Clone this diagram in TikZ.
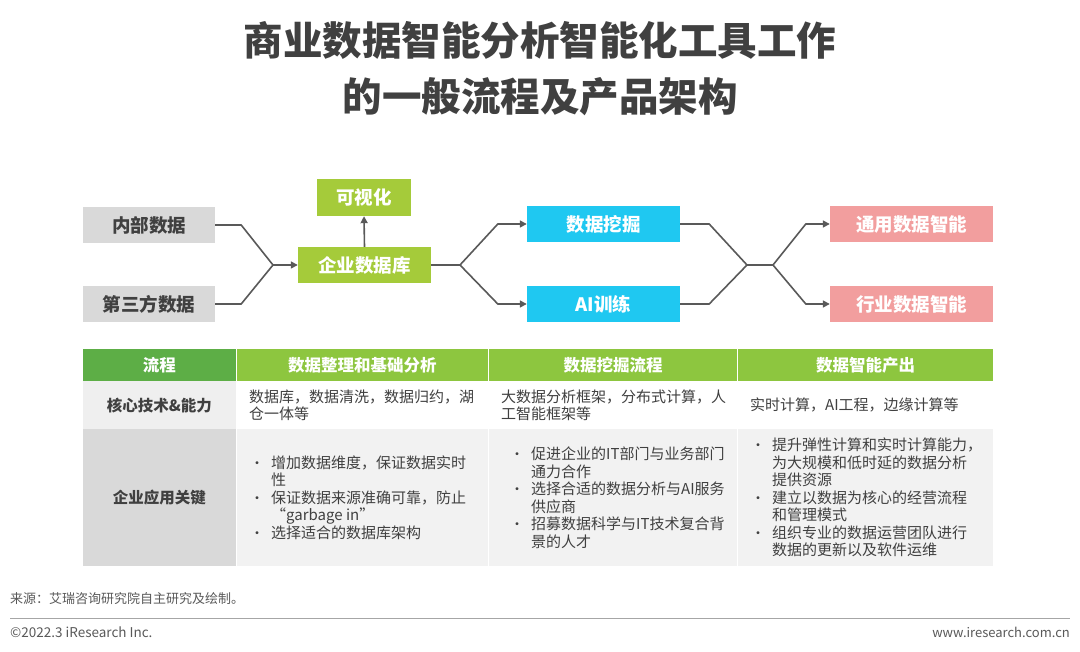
\documentclass[tikz,border=0pt]{standalone}
\usepackage{fontspec}
\setmainfont{Noto Sans CJK SC}
\XeTeXlinebreaklocale "zh"
\usetikzlibrary{arrows.meta}
\definecolor{txtdark}{HTML}{404040}
\definecolor{boxgray}{HTML}{D9D9D9}
\definecolor{boxgreen}{HTML}{A5CB3A}
\definecolor{boxcyan}{HTML}{1FC8F1}
\definecolor{boxpink}{HTML}{F29E9E}
\definecolor{conncol}{HTML}{595959}
\definecolor{hdrdark}{HTML}{5DAE46}
\definecolor{hdrlime}{HTML}{8DC63F}
\definecolor{cellgrayA}{HTML}{EFEFEF}
\definecolor{cellgrayB}{HTML}{D9D9D9}
\definecolor{cellgrayC}{HTML}{F2F2F2}
\definecolor{footgray}{HTML}{595959}
\newcommand{\bul}{\makebox[21pt][l]{\fontsize{14}{14}\selectfont •}}
\newcommand{\ind}{\hspace*{21pt}}
\begin{document}
\begin{tikzpicture}[x=1pt,y=-1pt,
  titletext/.style={font=\fontsize{39.5}{44}\selectfont\bfseries, text=txtdark, inner sep=0},
  flowbox/.style={rectangle, inner sep=0, font=\fontsize{18.5}{20}\selectfont\bfseries, text=white},
  conn/.style={draw=conncol, line width=1.6pt, line join=round},
  arr/.style={-{Triangle[length=7pt,width=7pt]}},
  cell/.style={rectangle, inner sep=0, anchor=north west},
  hdrtext/.style={font=\fontsize{16.5}{18}\selectfont\bfseries, text=white, inner sep=0},
  lbltext/.style={font=\fontsize{15.5}{18}\selectfont\bfseries, text=txtdark, inner sep=0},
  bodytext/.style={font=\fontsize{15}{17.5}\selectfont, text=txtdark, inner sep=0, align=left, anchor=west},
  foottext/.style={text=footgray, inner sep=0}
]
\useasboundingbox (0,0) rectangle (1080,652);
\fill[white] (0,0) rectangle (1080,652);

% Title
\node[titletext] (t1) at (540,40) {商业数据智能分析智能化工具工作};
\node[titletext] (t2) at (540,97) {的一般流程及产品架构};

% Flow boxes
\node[flowbox, fill=boxgray, text=txtdark, minimum width=132pt, minimum height=36pt] (in1) at (149,225) {内部数据};
\node[flowbox, fill=boxgray, text=txtdark, minimum width=132pt, minimum height=36pt] (in2) at (149,304) {第三方数据};
\node[flowbox, fill=boxgreen, minimum width=94pt, minimum height=37pt] (vis) at (364,197.5) {可视化};
\node[flowbox, fill=boxgreen, minimum width=133pt, minimum height=36pt] (db) at (364.5,265) {企业数据库};
\node[flowbox, fill=boxcyan, minimum width=153pt, minimum height=36pt] (mine) at (603.5,224) {数据挖掘};
\node[flowbox, fill=boxcyan, minimum width=153pt, minimum height=36pt] (ai) at (603.5,304) {AI训练};
\node[flowbox, fill=boxpink, minimum width=163pt, minimum height=36pt] (gen) at (911.5,224) {通用数据智能};
\node[flowbox, fill=boxpink, minimum width=163pt, minimum height=36pt] (ind) at (911.5,304) {行业数据智能};

% Connectors
\coordinate (j1) at (273,265);
\coordinate (j2) at (460,265);
\coordinate (j3) at (747,265);
\coordinate (j4) at (773,265);
\draw[conn] (in1.east) -- ++(26,0) -- (j1);
\draw[conn] (in2.east) -- ++(26,0) -- (j1);
\draw[conn,arr] (j1) -- (db.west);
\draw[conn,arr] (db.north) -- (vis.south);
\draw[conn] (db.east) -- (j2);
\draw[conn,arr] (j2) -- ([xshift=-29pt]mine.west) -- (mine.west);
\draw[conn,arr] (j2) -- ([xshift=-29pt]ai.west) -- (ai.west);
\draw[conn] (mine.east) -- ++(29,0) -- (j3);
\draw[conn] (ai.east) -- ++(29,0) -- (j3);
\draw[conn] (j3) -- (j4);
\draw[conn,arr] (j4) -- ([xshift=-24pt]gen.west) -- (gen.west);
\draw[conn,arr] (j4) -- ([xshift=-24pt]ind.west) -- (ind.west);

% Table: header row
\node[cell, fill=hdrdark, minimum width=152.5pt, minimum height=32pt] (h1) at (83,349) {};
\node[cell, fill=hdrlime, minimum width=250.5pt, minimum height=32pt] (h2) at (237,349) {};
\node[cell, fill=hdrlime, minimum width=248pt, minimum height=32pt] (h3) at (489,349) {};
\node[cell, fill=hdrlime, minimum width=255pt, minimum height=32pt] (h4) at (738,349) {};
\node[hdrtext] (h1t) at (h1.center) {流程};
\node[hdrtext] (h2t) at (h2.center) {数据整理和基础分析};
\node[hdrtext] (h3t) at (h3.center) {数据挖掘流程};
\node[hdrtext] (h4t) at (h4.center) {数据智能产出};

% Row 2
\node[cell, fill=cellgrayA, minimum width=152.5pt, minimum height=48pt] (r1) at (83,381) {};
\node[cell, fill=white, minimum width=250.5pt, minimum height=48pt] (r2) at (237,381) {};
\node[cell, fill=white, minimum width=248pt, minimum height=48pt] (r3) at (489,381) {};
\node[cell, fill=white, minimum width=255pt, minimum height=48pt] (r4) at (738,381) {};
\node[lbltext] (r1t) at (r1.center) {核心技术\&能力};
\node[bodytext] (r2t) at ([xshift=12pt]r2.west) {数据库，数据清洗，数据归约，湖\\仓一体等};
\node[bodytext] (r3t) at ([xshift=12pt]r3.west) {大数据分析框架，分布式计算，人\\工智能框架等};
\node[bodytext] (r4t) at ([xshift=12pt]r4.west) {实时计算，AI工程，边缘计算等};

% Row 3
\node[cell, fill=cellgrayB, minimum width=152.5pt, minimum height=137pt] (s1) at (83,429) {};
\node[cell, fill=cellgrayC, minimum width=250.5pt, minimum height=137pt] (s2) at (237,429) {};
\node[cell, fill=cellgrayC, minimum width=248pt, minimum height=137pt] (s3) at (489,429) {};
\node[cell, fill=cellgrayC, minimum width=255pt, minimum height=137pt] (s4) at (738,429) {};
\node[lbltext] (s1t) at (s1.center) {企业应用关键};
\node[bodytext] (s2t) at ([xshift=13pt]s2.west) {\bul 增加数据维度，保证数据实时\\\ind 性\\\bul 保证数据来源准确可靠，防止\\\ind “garbage in”\\\bul 选择适合的数据库架构};
\node[bodytext] (s3t) at ([xshift=21pt]s3.west) {\bul 促进企业的IT部门与业务部门\\\ind 通力合作\\\bul 选择合适的数据分析与AI服务\\\ind 供应商\\\bul 招募数据科学与IT技术复合背\\\ind 景的人才};
\node[bodytext] (s4t) at ([xshift=13pt]s4.west) {\bul 提升弹性计算和实时计算能力，\\\ind 为大规模和低时延的数据分析\\\ind 提供资源\\\bul 建立以数据为核心的经营流程\\\ind 和管理模式\\\bul 组织专业的数据运营团队进行\\\ind 数据的更新以及软件运维};

% Footer
\node[foottext, anchor=west, font=\fontsize{13}{14}\selectfont] (src) at (10,599) {来源：艾瑞咨询研究院自主研究及绘制。};
\coordinate (fl) at (10,618);
\coordinate (fr) at (1070,618);
\draw[draw=black!35, line width=1pt] (fl) -- (fr);
\node[foottext, anchor=west, font=\fontsize{13.5}{14}\selectfont] (copy) at (10,632) {©2022.3 iResearch Inc.};
\node[foottext, anchor=east, font=\fontsize{13}{14}\selectfont] (web) at (1070,632) {www.iresearch.com.cn};
\end{tikzpicture}
\end{document}
